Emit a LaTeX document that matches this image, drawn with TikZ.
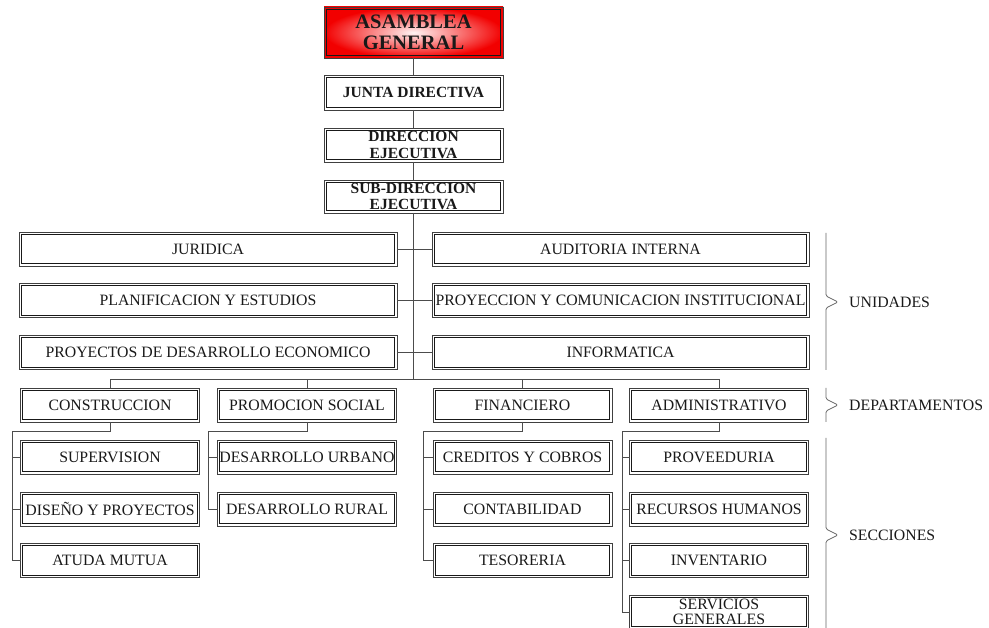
\documentclass[tikz,border=0pt]{standalone}
\usepackage{fontspec}
\setmainfont{Liberation Serif}
\begin{document}
\begin{tikzpicture}[x=1pt,y=-1pt,
 bx/.style={draw=black!75, line width=0.6pt, fill=white, inner sep=1pt, outer sep=0pt, align=center, font=\fontsize{15.8}{17}\selectfont, text=black!90, minimum height=34pt},
 bb/.style={bx, font=\bfseries\fontsize{15.5}{16.5}\selectfont, minimum width=179pt},
 uw/.style={minimum width=378pt},
 dw/.style={minimum width=179pt},
 inner/.style={draw=black!90, line width=1.1pt},
 ln/.style={draw=black!70, line width=0.9pt},
 br/.style={draw=black!60, line width=0.8pt, rounded corners=1.5pt},
 lab/.style={anchor=west, inner sep=3pt, font=\fontsize{15.8}{17}\selectfont, text=black!90}]
\useasboundingbox (0,0) rectangle (989,628);

% top chain
\node[bb, minimum height=51pt, font=\bfseries\fontsize{20.5}{21.5}\selectfont, shading=radial, inner color=red!4, outer color=red!95!black] (asam) at (413.5,32.5) {ASAMBLEA\\GENERAL};
\node[bb, minimum height=35pt] (junta) at (413.5,92.5) {JUNTA DIRECTIVA};
\node[bb] (dir) at (413.5,145) {DIRECCION\\EJECUTIVA};
\node[bb, minimum height=33pt] (sub) at (413.5,196.5) {SUB-DIRECCION\\EJECUTIVA};

% unidades
\node[bx, uw] (jur) at (208,249) {JURIDICA};
\node[bx, uw] (plan) at (208,300.5) {PLANIFICACION Y ESTUDIOS};
\node[bx, uw] (proy) at (208,352.5) {PROYECTOS DE DESARROLLO ECONOMICO};
\node[bx, minimum width=377pt] (aud) at (620.5,249) {AUDITORIA INTERNA};
\node[bx, minimum width=377pt] (com) at (620.5,300.5) {PROYECCION Y COMUNICACION INSTITUCIONAL};
\node[bx, minimum width=377pt] (inf) at (620.5,352.5) {INFORMATICA};

% departamentos
\node[bx, dw] (cons) at (110,405) {CONSTRUCCION};
\node[bx, dw] (promo) at (307,405) {PROMOCION SOCIAL};
\node[bx, dw] (fin) at (522.5,405) {FINANCIERO};
\node[bx, dw] (admin) at (719,405) {ADMINISTRATIVO};

% secciones
\node[bx, dw] (sup) at (110,457) {SUPERVISION};
\node[bx, dw] (dis) at (110,509) {DISEÑO Y PROYECTOS};
\node[bx, dw] (atuda) at (110,560.5) {ATUDA MUTUA};
\node[bx, dw] (urb) at (307,457) {DESARROLLO URBANO};
\node[bx, dw] (rur) at (307,509) {DESARROLLO RURAL};
\node[bx, dw] (cred) at (522.5,457) {CREDITOS Y COBROS};
\node[bx, dw] (conta) at (522.5,509) {CONTABILIDAD};
\node[bx, dw] (teso) at (522.5,560.5) {TESORERIA};
\node[bx, dw] (prov) at (719,457) {PROVEEDURIA};
\node[bx, dw] (rrhh) at (719,509) {RECURSOS HUMANOS};
\node[bx, dw] (inv) at (719,560.5) {INVENTARIO};
\node[bx, dw, font=\fontsize{15.8}{16}\selectfont] (serv) at (719,612) {SERVICIOS\\[-1pt]GENERALES};

% inner frames of the double borders
\foreach \n in {asam,junta,dir,sub,jur,plan,proy,aud,com,inf,cons,promo,fin,admin,sup,dis,atuda,urb,rur,cred,conta,teso,prov,rrhh,inv,serv}
  \draw[inner] ([shift={(2.4pt,2.4pt)}]\n.south west) rectangle ([shift={(-2.4pt,-2.4pt)}]\n.north east);

% spine
\coordinate (bus) at (413.5,379);
\draw[ln] (asam.south) -- (junta.north);
\draw[ln] (junta.south) -- (dir.north);
\draw[ln] (dir.south) -- (sub.north);
\draw[ln] (sub.south) -- (bus);
\foreach \n in {jur,plan,proy} \draw[ln] (\n.east) -- (\n.east -| bus);
\foreach \n in {aud,com,inf} \draw[ln] (\n.west) -- (\n.west -| bus);

% bus to departments
\draw[ln] (cons.north) -- (cons.north |- bus) -- (admin.north |- bus) -- (admin.north);
\draw[ln] (promo.north) -- (promo.north |- bus);
\draw[ln] (fin.north) -- (fin.north |- bus);

% department to sections
\coordinate (c1) at (12,431);
\draw[ln] (cons.south) |- (c1) |- (atuda.west);
\foreach \n in {sup,dis} \draw[ln] (\n.west) -- (\n.west -| c1);
\coordinate (c2) at (208,431);
\draw[ln] (promo.south) |- (c2) |- (rur.west);
\draw[ln] (urb.west) -- (urb.west -| c2);
\coordinate (c3) at (423,431);
\draw[ln] (fin.south) |- (c3) |- (teso.west);
\foreach \n in {cred,conta} \draw[ln] (\n.west) -- (\n.west -| c3);
\coordinate (c4) at (622,431);
\draw[ln] (admin.south) |- (c4) |- (serv.west);
\foreach \n in {prov,rrhh,inv} \draw[ln] (\n.west) -- (\n.west -| c4);

% braces and level labels
\draw[br] (826,233) -- (826,296) -- (838,302) -- (826,308) -- (826,370);
\node[lab] (luni) at (846,302) {UNIDADES};
\draw[br] (826,388) -- (826,399) -- (838,405) -- (826,411) -- (826,422);
\node[lab] (ldep) at (846,405) {DEPARTAMENTOS};
\draw[br] (826,438) -- (826,529) -- (838,535) -- (826,541) -- (826,640);
\node[lab] (lsec) at (846,535) {SECCIONES};
\end{tikzpicture}
\end{document}
